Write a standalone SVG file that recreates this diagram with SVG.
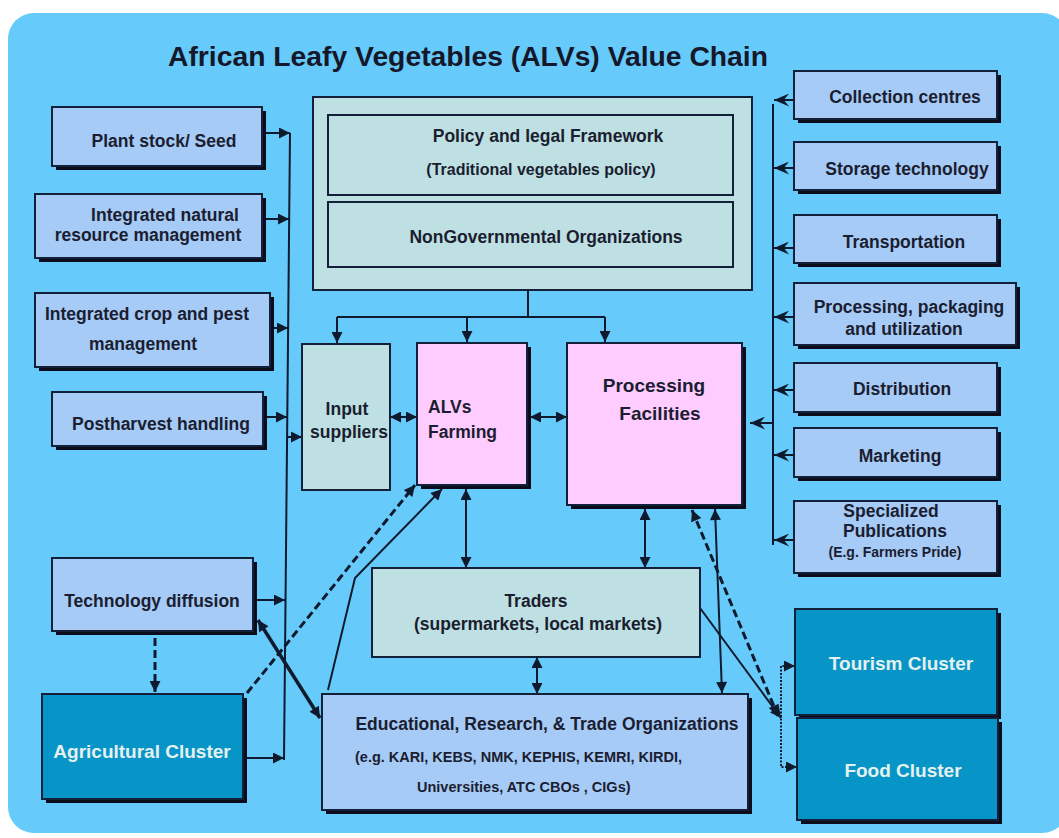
<svg xmlns="http://www.w3.org/2000/svg" width="1059" height="838" viewBox="0 0 1059 838">
<style>
.bg{fill:#66CBFA}
rect.b{stroke:#13203a;stroke-width:2}
.lb{fill:#A6CBF6}
.tl{fill:#BEE0E2}
.pk{fill:#FFCCFF}
.dk{fill:#0795C8}
.sh{fill:#0b0d1c}
text{font-family:"Liberation Sans",Arial,Helvetica,sans-serif;font-weight:bold;fill:#1b1d30;text-anchor:middle;font-size:17.5px}
text.w{fill:#e4f1ef;font-size:19px}
text.s{font-size:14.5px}
.c line,.c polyline,.c path{stroke:#0f1a2e;stroke-width:2;fill:none}
.c .d{stroke-width:3;stroke-dasharray:8 4}
.c .th{stroke-width:3.5}
.c .dot{stroke-dasharray:2 1.5}
</style>
<defs>
<marker id="a" viewBox="0 0 10 10" refX="10" refY="5" markerWidth="14" markerHeight="11" markerUnits="userSpaceOnUse" orient="auto-start-reverse"><path d="M0,0 L10,5 L0,10 z" fill="#0f1a2e"/></marker>
<marker id="v" viewBox="0 0 14 12" refX="14" refY="6" markerWidth="17" markerHeight="13" markerUnits="userSpaceOnUse" orient="auto-start-reverse"><path d="M0,0 L14,6 L0,12 L5,6 z" fill="#0f1a2e"/></marker>
</defs>
<rect x="0" y="0" width="1059" height="838" fill="#ffffff"/>
<rect class="bg" x="8" y="13" width="1060" height="820" rx="26"/>
<text x="468" y="66" style="font-size:27px;fill:#15172a" textLength="600" lengthAdjust="spacingAndGlyphs">African Leafy Vegetables (ALVs) Value Chain</text>

<g id="connectors" class="c">
<line x1="290" y1="133" x2="284" y2="760"/>
<line x1="266" y1="133" x2="290" y2="133" marker-end="url(#a)"/>
<line x1="266" y1="219" x2="289" y2="219" marker-end="url(#a)"/>
<line x1="274" y1="328" x2="288" y2="328" marker-end="url(#a)"/>
<line x1="267" y1="417" x2="287" y2="417" marker-end="url(#a)"/>
<line x1="287" y1="437" x2="302" y2="437" marker-end="url(#a)"/>
<line x1="257" y1="600" x2="285" y2="600" marker-end="url(#a)"/>
<line x1="247" y1="758" x2="284" y2="758" marker-end="url(#a)"/>
<line x1="528" y1="290" x2="528" y2="317"/>
<line x1="337" y1="317" x2="605" y2="317"/>
<line x1="337" y1="317" x2="337" y2="343" marker-end="url(#a)"/>
<line x1="467" y1="317" x2="467" y2="342" marker-end="url(#a)"/>
<line x1="605" y1="317" x2="605" y2="342" marker-end="url(#a)"/>
<line x1="390" y1="417" x2="417" y2="417" marker-start="url(#a)" marker-end="url(#a)"/>
<line x1="530" y1="417" x2="567" y2="417" marker-start="url(#a)" marker-end="url(#a)"/>
<line x1="466" y1="489" x2="466" y2="568" marker-start="url(#a)" marker-end="url(#a)"/>
<line x1="645" y1="509" x2="645" y2="568" marker-start="url(#a)" marker-end="url(#a)"/>
<line x1="537" y1="657" x2="537" y2="694" marker-start="url(#a)" marker-end="url(#a)"/>
<line x1="715" y1="509" x2="722" y2="693" marker-start="url(#a)" marker-end="url(#a)"/>
<line x1="700" y1="608" x2="781" y2="718" marker-end="url(#a)"/>
<line class="d" x1="692" y1="510" x2="778" y2="716" marker-start="url(#a)" marker-end="url(#a)"/>
<line x1="773" y1="104" x2="773" y2="545"/>
<line x1="794" y1="100" x2="774" y2="100" marker-end="url(#v)"/>
<line x1="794" y1="168" x2="774" y2="168" marker-end="url(#v)"/>
<line x1="794" y1="248" x2="774" y2="248" marker-end="url(#v)"/>
<line x1="794" y1="317" x2="774" y2="317" marker-end="url(#v)"/>
<line x1="794" y1="390" x2="774" y2="390" marker-end="url(#v)"/>
<line x1="794" y1="455" x2="774" y2="455" marker-end="url(#v)"/>
<line x1="794" y1="540" x2="774" y2="540" marker-end="url(#v)"/>
<line x1="773" y1="423" x2="750" y2="423" marker-end="url(#v)"/>
<path class="dot" d="M795,666 H781 V767 H797" marker-start="url(#a)" marker-end="url(#a)"/>
<line class="d" x1="247" y1="693" x2="415" y2="485" marker-end="url(#a)"/>
<polyline points="328,690 355,578 442,489" marker-end="url(#a)"/>
<line class="th" x1="258" y1="620" x2="320" y2="718" marker-start="url(#a)" marker-end="url(#a)"/>
<line class="d" x1="155" y1="638" x2="155" y2="692" marker-end="url(#a)"/>
</g>

<g id="plant-stock">
<rect class="sh" x="56" y="111" width="210" height="59"/>
<rect class="b lb" x="52" y="107" width="210" height="59"/>
<text x="164" y="147">Plant stock/ Seed</text>
</g>
<g id="inrm">
<rect class="sh" x="39" y="198" width="227" height="64"/>
<rect class="b lb" x="35" y="194" width="227" height="64"/>
<text x="165" y="221">Integrated natural</text>
<text x="148" y="241">resource management</text>
</g>
<g id="icpm">
<rect class="sh" x="39" y="297" width="235" height="74"/>
<rect class="b lb" x="35" y="293" width="235" height="74"/>
<text x="147" y="320">Integrated crop and pest</text>
<text x="143" y="350">management</text>
</g>
<g id="postharvest">
<rect class="sh" x="56" y="396" width="211" height="54"/>
<rect class="b lb" x="52" y="392" width="211" height="54"/>
<text x="161" y="430">Postharvest handling</text>
</g>
<g id="technology-diffusion">
<rect class="sh" x="56" y="562" width="201" height="73"/>
<rect class="b lb" x="52" y="558" width="201" height="73"/>
<text x="152" y="607">Technology diffusion</text>
</g>
<g id="agricultural-cluster">
<rect class="sh" x="46" y="698" width="201" height="105"/>
<rect class="b dk" x="42" y="694" width="201" height="105"/>
<text class="w" x="142" y="758">Agricultural Cluster</text>
</g>

<g id="policy-frame">
<rect class="b tl" x="313" y="97" width="439" height="193"/>
<g id="policy">
<rect class="b tl" x="328" y="115" width="405" height="80"/>
<text x="548" y="142">Policy and legal Framework</text>
<text x="541" y="175" style="font-size:16px">(Traditional vegetables policy)</text>
</g>
<g id="ngo">
<rect class="b tl" x="328" y="202" width="405" height="65"/>
<text x="546" y="243">NonGovernmental Organizations</text>
</g>
</g>

<g id="input-suppliers">
<rect class="b tl" x="302" y="344" width="88" height="146"/>
<text x="347" y="415">Input</text>
<text x="349" y="438">suppliers</text>
</g>
<g id="alvs-farming">
<rect class="sh" x="421" y="347" width="110" height="142"/>
<rect class="b pk" x="417" y="343" width="110" height="142"/>
<text x="428" y="413" style="text-anchor:start">ALVs</text>
<text x="428" y="438" style="text-anchor:start">Farming</text>
</g>
<g id="processing-facilities">
<rect class="sh" x="571" y="347" width="175" height="162"/>
<rect class="b pk" x="567" y="343" width="175" height="162"/>
<text x="654" y="392" style="font-size:19px">Processing</text>
<text x="660" y="420" style="font-size:19px">Facilities</text>
</g>
<g id="traders">
<rect class="b tl" x="372" y="568" width="328" height="89"/>
<text x="536" y="607">Traders</text>
<text x="538" y="630">(supermarkets, local markets)</text>
</g>
<g id="educational">
<rect class="sh" x="326" y="698" width="426" height="116"/>
<rect class="b lb" x="322" y="694" width="426" height="116"/>
<text x="547" y="730">Educational, Research, &amp; Trade Organizations</text>
<text class="s" x="355" y="762" style="text-anchor:start">(e.g. KARI, KEBS, NMK, KEPHIS, KEMRI, KIRDI,</text>
<text class="s" x="417" y="792" style="text-anchor:start">Universities, ATC CBOs , CIGs)</text>
</g>

<g id="collection-centres">
<rect class="sh" x="798" y="75" width="203" height="48"/>
<rect class="b lb" x="794" y="71" width="203" height="48"/>
<text x="905" y="103">Collection centres</text>
</g>
<g id="storage-technology">
<rect class="sh" x="798" y="146" width="203" height="48"/>
<rect class="b lb" x="794" y="142" width="203" height="48"/>
<text x="907" y="175">Storage technology</text>
</g>
<g id="transportation">
<rect class="sh" x="798" y="219" width="203" height="48"/>
<rect class="b lb" x="794" y="215" width="203" height="48"/>
<text x="904" y="248">Transportation</text>
</g>
<g id="processing-packaging">
<rect class="sh" x="798" y="287" width="222" height="62"/>
<rect class="b lb" x="794" y="283" width="222" height="62"/>
<text x="909" y="313">Processing, packaging</text>
<text x="904" y="335">and utilization</text>
</g>
<g id="distribution">
<rect class="sh" x="798" y="367" width="203" height="49"/>
<rect class="b lb" x="794" y="363" width="203" height="49"/>
<text x="902" y="395">Distribution</text>
</g>
<g id="marketing">
<rect class="sh" x="798" y="432" width="203" height="49"/>
<rect class="b lb" x="794" y="428" width="203" height="49"/>
<text x="900" y="462">Marketing</text>
</g>
<g id="specialized-publications">
<rect class="sh" x="798" y="505" width="203" height="72"/>
<rect class="b lb" x="794" y="501" width="203" height="72"/>
<text x="891" y="517">Specialized</text>
<text x="895" y="537">Publications</text>
<text x="895" y="557" style="font-size:14px">(E.g. Farmers Pride)</text>
</g>
<g id="tourism-cluster">
<rect class="sh" x="799" y="613" width="202" height="106"/>
<rect class="b dk" x="795" y="609" width="202" height="106"/>
<text class="w" x="901" y="670">Tourism Cluster</text>
</g>
<g id="food-cluster">
<rect class="sh" x="801" y="722" width="201" height="102"/>
<rect class="b dk" x="797" y="718" width="201" height="102"/>
<text class="w" x="903" y="777">Food Cluster</text>
</g>
</svg>
